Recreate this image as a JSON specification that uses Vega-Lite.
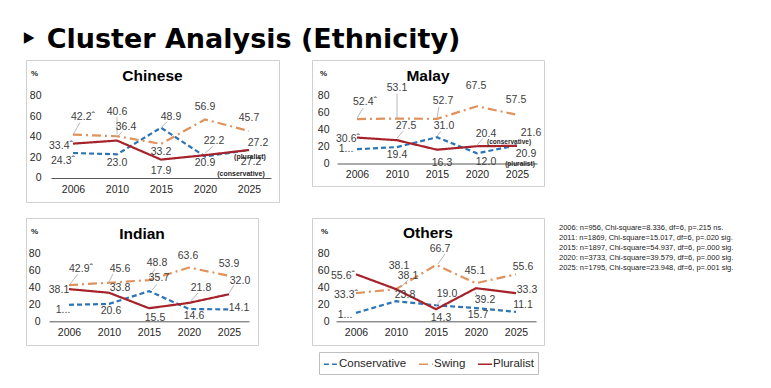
{
"$schema":"https://vega.github.io/schema/vega-lite/v6.json",
"background":"white",
"padding":{"left":20,"top":25,"right":5,"bottom":5},
"title":{"text":"‣ Cluster Analysis (Ethnicity)","anchor":"start","frame":"group","font":"DejaVu Sans","fontSize":27,"fontWeight":"bold","color":"#000000","dx":-6,"offset":-15,"baseline":"alphabetic"},
"datasets":{
"cn":[
{"year":"2006","s":"Conservative","v":24.3,"lbl":"24.3ˆ"},{"year":"2006","s":"Swing","v":42.2,"lbl":"42.2ˆ"},{"year":"2006","s":"Pluralist","v":33.4,"lbl":"33.4ˆ"},
{"year":"2010","s":"Conservative","v":23.0,"lbl":"23.0"},{"year":"2010","s":"Swing","v":40.6,"lbl":"40.6"},{"year":"2010","s":"Pluralist","v":36.4,"lbl":"36.4"},
{"year":"2015","s":"Conservative","v":48.9,"lbl":"48.9"},{"year":"2015","s":"Swing","v":33.2,"lbl":"33.2"},{"year":"2015","s":"Pluralist","v":17.9,"lbl":"17.9"},
{"year":"2020","s":"Conservative","v":20.9,"lbl":"20.9"},{"year":"2020","s":"Swing","v":56.9,"lbl":"56.9"},{"year":"2020","s":"Pluralist","v":22.2,"lbl":"22.2"},
{"year":"2025","s":"Conservative","v":27.2,"lbl":"27.2"},{"year":"2025","s":"Swing","v":45.7,"lbl":"45.7"},{"year":"2025","s":"Pluralist","v":27.2,"lbl":"27.2"}],
"my":[
{"year":"2006","s":"Conservative","v":16.9,"lbl":"1..."},{"year":"2006","s":"Swing","v":52.4,"lbl":"52.4ˆ"},{"year":"2006","s":"Pluralist","v":30.6,"lbl":"30.6ˆ"},
{"year":"2010","s":"Conservative","v":19.4,"lbl":"19.4"},{"year":"2010","s":"Swing","v":53.1,"lbl":"53.1"},{"year":"2010","s":"Pluralist","v":27.5,"lbl":"27.5"},
{"year":"2015","s":"Conservative","v":31.0,"lbl":"31.0"},{"year":"2015","s":"Swing","v":52.7,"lbl":"52.7"},{"year":"2015","s":"Pluralist","v":16.3,"lbl":"16.3"},
{"year":"2020","s":"Conservative","v":12.0,"lbl":"12.0"},{"year":"2020","s":"Swing","v":67.5,"lbl":"67.5"},{"year":"2020","s":"Pluralist","v":20.4,"lbl":"20.4"},
{"year":"2025","s":"Conservative","v":21.6,"lbl":"21.6"},{"year":"2025","s":"Swing","v":57.5,"lbl":"57.5"},{"year":"2025","s":"Pluralist","v":20.9,"lbl":"20.9"}],
"in":[
{"year":"2006","s":"Conservative","v":19.5,"lbl":"1..."},{"year":"2006","s":"Swing","v":42.9,"lbl":"42.9ˆ"},{"year":"2006","s":"Pluralist","v":38.1,"lbl":"38.1"},
{"year":"2010","s":"Conservative","v":20.6,"lbl":"20.6"},{"year":"2010","s":"Swing","v":45.6,"lbl":"45.6"},{"year":"2010","s":"Pluralist","v":33.8,"lbl":"33.8"},
{"year":"2015","s":"Conservative","v":35.7,"lbl":"35.7"},{"year":"2015","s":"Swing","v":48.8,"lbl":"48.8"},{"year":"2015","s":"Pluralist","v":15.5,"lbl":"15.5"},
{"year":"2020","s":"Conservative","v":14.6,"lbl":"14.6"},{"year":"2020","s":"Swing","v":63.6,"lbl":"63.6"},{"year":"2020","s":"Pluralist","v":21.8,"lbl":"21.8"},
{"year":"2025","s":"Conservative","v":14.1,"lbl":"14.1"},{"year":"2025","s":"Swing","v":53.9,"lbl":"53.9"},{"year":"2025","s":"Pluralist","v":32.0,"lbl":"32.0"}],
"ot":[
{"year":"2006","s":"Conservative","v":10.0,"lbl":"1..."},{"year":"2006","s":"Swing","v":33.3,"lbl":"33.3ˆ"},{"year":"2006","s":"Pluralist","v":55.6,"lbl":"55.6ˆ"},
{"year":"2010","s":"Conservative","v":23.8,"lbl":"23.8"},{"year":"2010","s":"Swing","v":38.1,"lbl":"38.1"},{"year":"2010","s":"Pluralist","v":38.1,"lbl":"38.1"},
{"year":"2015","s":"Conservative","v":19.0,"lbl":"19.0"},{"year":"2015","s":"Swing","v":66.7,"lbl":"66.7"},{"year":"2015","s":"Pluralist","v":14.3,"lbl":"14.3"},
{"year":"2020","s":"Conservative","v":15.7,"lbl":"15.7"},{"year":"2020","s":"Swing","v":45.1,"lbl":"45.1"},{"year":"2020","s":"Pluralist","v":39.2,"lbl":"39.2"},
{"year":"2025","s":"Conservative","v":11.1,"lbl":"11.1"},{"year":"2025","s":"Swing","v":55.6,"lbl":"55.6"},{"year":"2025","s":"Pluralist","v":33.3,"lbl":"33.3"}],
"notes":[
{"i":1,"t":"2006: n=956, Chi-square=8.336, df=6, p=.215 ns."},
{"i":2,"t":"2011: n=1869, Chi-square=15.017, df=6, p=.020 sig."},
{"i":3,"t":"2015: n=1897, Chi-square=54.937, df=6, p=.000 sig."},
{"i":4,"t":"2020: n=3733, Chi-square=39.579, df=6, p=.000 sig."},
{"i":5,"t":"2025: n=1795, Chi-square=23.948, df=6, p=.001 sig."}]
},
"spacing":14,
"vconcat":[
{"spacing":31,"hconcat":[
{"width":253,"height":142,"title":{"text":"Chinese","offset":-24},"data":{"name":"cn"},
"encoding":{
"x":{"field":"year","type":"ordinal","scale":{"type":"point","range":[25,245],"padding":0.5},"axis":{"title":null,"offset":-24}},
"y":{"field":"v","type":"quantitative","scale":{"domain":[-23.33,114.7],"nice":false,"zero":false},"axis":{"values":[0,20,40,60,80],"offset":-15,"title":"%","titleX":-7,"titleY":13}}},
"layer":[
{"mark":{"type":"line","strokeWidth":2.2},"encoding":{
"color":{"field":"s","type":"nominal","scale":{"domain":["Conservative","Swing","Pluralist"],"range":["#2e75b6","#e0925c","#a6232b"]},"legend":{"title":null,"orient":"none","legendX":293,"legendY":292,"direction":"horizontal"}},
"strokeDash":{"field":"s","type":"nominal","scale":{"domain":["Conservative","Swing","Pluralist"],"range":[[5,3],[9,4,2,4],[1,0]]},"legend":{"title":null,"orient":"none","legendX":293,"legendY":292,"direction":"horizontal"}}}},
{"transform":[{"filter":"datum.s=='Swing'&&datum.year=='2006'"}],"mark":{"type":"rule","x2Offset":7,"y2Offset":-12},"encoding":{"x2":{"field":"year"},"y2":{"field":"v"}}},
{"transform":[{"filter":"datum.s=='Swing'&&datum.year=='2010'"}],"mark":{"type":"rule","yOffset":-2,"y2Offset":-19},"encoding":{"x2":{"field":"year"},"y2":{"field":"v"}}},
{"transform":[{"filter":"datum.s=='Conservative'&&datum.year=='2015'"}],"mark":{"type":"rule","x2Offset":6,"y2Offset":-6},"encoding":{"x2":{"field":"year"},"y2":{"field":"v"}}},
{"transform":[{"filter":"datum.s=='Pluralist'&&datum.year=='2010'"}],"mark":{"type":"rule","yOffset":-3,"x2Offset":5,"y2Offset":-9},"encoding":{"x2":{"field":"year"},"y2":{"field":"v"}}},
{"transform":[{"filter":"datum.s=='Pluralist'&&datum.year=='2020'"}],"mark":{"type":"rule","yOffset":-2,"x2Offset":8,"y2Offset":-9},"encoding":{"x2":{"field":"year"},"y2":{"field":"v"}}},
{"transform":[{"filter":"datum.s=='Swing'&&datum.year=='2006'"}],"mark":{"type":"text","dx":10,"dy":-18},"encoding":{"text":{"field":"lbl"}}},
{"transform":[{"filter":"datum.s=='Swing'&&datum.year=='2010'"}],"mark":{"type":"text","dx":0,"dy":-24},"encoding":{"text":{"field":"lbl"}}},
{"transform":[{"filter":"datum.s=='Swing'&&datum.year=='2015'"}],"mark":{"type":"text","dx":0,"dy":8},"encoding":{"text":{"field":"lbl"}}},
{"transform":[{"filter":"datum.s=='Swing'&&datum.year=='2020'"}],"mark":{"type":"text","dx":0,"dy":-12},"encoding":{"text":{"field":"lbl"}}},
{"transform":[{"filter":"datum.s=='Swing'&&datum.year=='2025'"}],"mark":{"type":"text","dx":0,"dy":-13},"encoding":{"text":{"field":"lbl"}}},
{"transform":[{"filter":"datum.s=='Conservative'&&datum.year=='2006'"}],"mark":{"type":"text","dx":-10,"dy":8},"encoding":{"text":{"field":"lbl"}}},
{"transform":[{"filter":"datum.s=='Conservative'&&datum.year=='2010'"}],"mark":{"type":"text","dx":0,"dy":9},"encoding":{"text":{"field":"lbl"}}},
{"transform":[{"filter":"datum.s=='Conservative'&&datum.year=='2015'"}],"mark":{"type":"text","dx":10,"dy":-11},"encoding":{"text":{"field":"lbl"}}},
{"transform":[{"filter":"datum.s=='Conservative'&&datum.year=='2020'"}],"mark":{"type":"text","dx":0,"dy":7},"encoding":{"text":{"field":"lbl"}}},
{"transform":[{"filter":"datum.s=='Conservative'&&datum.year=='2025'"}],"mark":{"type":"text","dx":2,"dy":12},"encoding":{"text":{"field":"lbl"}}},
{"transform":[{"filter":"datum.s=='Pluralist'&&datum.year=='2006'"}],"mark":{"type":"text","dx":-12,"dy":2},"encoding":{"text":{"field":"lbl"}}},
{"transform":[{"filter":"datum.s=='Pluralist'&&datum.year=='2010'"}],"mark":{"type":"text","dx":9,"dy":-14},"encoding":{"text":{"field":"lbl"}}},
{"transform":[{"filter":"datum.s=='Pluralist'&&datum.year=='2015'"}],"mark":{"type":"text","dx":0,"dy":11},"encoding":{"text":{"field":"lbl"}}},
{"transform":[{"filter":"datum.s=='Pluralist'&&datum.year=='2020'"}],"mark":{"type":"text","dx":9,"dy":-14},"encoding":{"text":{"field":"lbl"}}},
{"transform":[{"filter":"datum.s=='Pluralist'&&datum.year=='2025'"}],"mark":{"type":"text","dx":9,"dy":-7},"encoding":{"text":{"field":"lbl"}}},
{"transform":[{"filter":"datum.s=='Pluralist'&&datum.year=='2025'"}],"mark":{"type":"text","dx":1,"dy":7,"fontSize":7,"fontWeight":"bold","color":"#262626"},"encoding":{"text":{"value":"(pluralist)"}}},
{"transform":[{"filter":"datum.s=='Conservative'&&datum.year=='2025'"}],"mark":{"type":"text","dx":-8,"dy":24,"fontSize":7,"fontWeight":"bold","color":"#262626"},"encoding":{"text":{"value":"(conservative)"}}}
]},
{"width":232,"height":126,"title":{"text":"Malay","offset":-24},"data":{"name":"my"},
"encoding":{
"x":{"field":"year","type":"ordinal","scale":{"type":"point","range":[25,225],"padding":0.5},"axis":{"title":null,"offset":-22.5}},
"y":{"field":"v","type":"quantitative","scale":{"domain":[-26.5,122.1],"nice":false,"zero":false},"axis":{"values":[0,20,40,60,80],"offset":-17,"title":"%","titleX":-6,"titleY":13}}},
"layer":[
{"mark":{"type":"line","strokeWidth":2.2},"encoding":{
"color":{"field":"s","type":"nominal","scale":{"domain":["Conservative","Swing","Pluralist"],"range":["#2e75b6","#e0925c","#a6232b"]},"legend":{"title":null,"orient":"none","legendX":293,"legendY":292,"direction":"horizontal"}},
"strokeDash":{"field":"s","type":"nominal","scale":{"domain":["Conservative","Swing","Pluralist"],"range":[[5,3],[9,4,2,4],[1,0]]},"legend":{"title":null,"orient":"none","legendX":293,"legendY":292,"direction":"horizontal"}}}},
{"transform":[{"filter":"datum.s=='Swing'&&datum.year=='2006'"}],"mark":{"type":"rule","yOffset":-1,"x2Offset":6,"y2Offset":-11},"encoding":{"x2":{"field":"year"},"y2":{"field":"v"}}},
{"transform":[{"filter":"datum.s=='Swing'&&datum.year=='2010'"}],"mark":{"type":"rule","y2Offset":-25},"encoding":{"x2":{"field":"year"},"y2":{"field":"v"}}},
{"transform":[{"filter":"datum.s=='Swing'&&datum.year=='2015'"}],"mark":{"type":"rule","yOffset":-1,"x2Offset":2,"y2Offset":-12},"encoding":{"x2":{"field":"year"},"y2":{"field":"v"}}},
{"transform":[{"filter":"datum.s=='Pluralist'&&datum.year=='2010'"}],"mark":{"type":"rule","yOffset":-2,"x2Offset":6,"y2Offset":-9},"encoding":{"x2":{"field":"year"},"y2":{"field":"v"}}},
{"transform":[{"filter":"datum.s=='Conservative'&&datum.year=='2015'"}],"mark":{"type":"rule","yOffset":-1,"x2Offset":4,"y2Offset":-6},"encoding":{"x2":{"field":"year"},"y2":{"field":"v"}}},
{"transform":[{"filter":"datum.s=='Pluralist'&&datum.year=='2020'"}],"mark":{"type":"rule","yOffset":-1,"x2Offset":6,"y2Offset":-8},"encoding":{"x2":{"field":"year"},"y2":{"field":"v"}}},
{"transform":[{"filter":"datum.s=='Swing'&&datum.year=='2006'"}],"mark":{"type":"text","dx":8,"dy":-17},"encoding":{"text":{"field":"lbl"}}},
{"transform":[{"filter":"datum.s=='Swing'&&datum.year=='2010'"}],"mark":{"type":"text","dx":0,"dy":-31},"encoding":{"text":{"field":"lbl"}}},
{"transform":[{"filter":"datum.s=='Swing'&&datum.year=='2015'"}],"mark":{"type":"text","dx":6,"dy":-18},"encoding":{"text":{"field":"lbl"}}},
{"transform":[{"filter":"datum.s=='Swing'&&datum.year=='2020'"}],"mark":{"type":"text","dx":-1,"dy":-20},"encoding":{"text":{"field":"lbl"}}},
{"transform":[{"filter":"datum.s=='Swing'&&datum.year=='2025'"}],"mark":{"type":"text","dx":-1,"dy":-15},"encoding":{"text":{"field":"lbl"}}},
{"transform":[{"filter":"datum.s=='Pluralist'&&datum.year=='2006'"}],"mark":{"type":"text","dx":-9,"dy":1},"encoding":{"text":{"field":"lbl"}}},
{"transform":[{"filter":"datum.s=='Pluralist'&&datum.year=='2010'"}],"mark":{"type":"text","dx":9,"dy":-14},"encoding":{"text":{"field":"lbl"}}},
{"transform":[{"filter":"datum.s=='Pluralist'&&datum.year=='2015'"}],"mark":{"type":"text","dx":5,"dy":13},"encoding":{"text":{"field":"lbl"}}},
{"transform":[{"filter":"datum.s=='Pluralist'&&datum.year=='2020'"}],"mark":{"type":"text","dx":9,"dy":-12},"encoding":{"text":{"field":"lbl"}}},
{"transform":[{"filter":"datum.s=='Pluralist'&&datum.year=='2025'"}],"mark":{"type":"text","dx":9,"dy":8},"encoding":{"text":{"field":"lbl"}}},
{"transform":[{"filter":"datum.s=='Conservative'&&datum.year=='2006'"}],"mark":{"type":"text","dx":-11,"dy":0},"encoding":{"text":{"field":"lbl"}}},
{"transform":[{"filter":"datum.s=='Conservative'&&datum.year=='2010'"}],"mark":{"type":"text","dx":0,"dy":8},"encoding":{"text":{"field":"lbl"}}},
{"transform":[{"filter":"datum.s=='Conservative'&&datum.year=='2015'"}],"mark":{"type":"text","dx":7,"dy":-11},"encoding":{"text":{"field":"lbl"}}},
{"transform":[{"filter":"datum.s=='Conservative'&&datum.year=='2020'"}],"mark":{"type":"text","dx":9,"dy":9},"encoding":{"text":{"field":"lbl"}}},
{"transform":[{"filter":"datum.s=='Conservative'&&datum.year=='2025'"}],"mark":{"type":"text","dx":14,"dy":-12},"encoding":{"text":{"field":"lbl"}}},
{"transform":[{"filter":"datum.s=='Conservative'&&datum.year=='2025'"}],"mark":{"type":"text","dx":-8,"dy":-3,"fontSize":6.5,"fontWeight":"bold","color":"#262626"},"encoding":{"text":{"value":"(conservative)"}}},
{"transform":[{"filter":"datum.s=='Pluralist'&&datum.year=='2025'"}],"mark":{"type":"text","dx":3,"dy":18,"fontSize":6.5,"fontWeight":"bold","color":"#262626"},"encoding":{"text":{"value":"(pluralist)"}}}
]}
]},
{"spacing":52,"hconcat":[
{"width":232,"height":127,"title":{"text":"Indian","offset":-24},"data":{"name":"in"},
"encoding":{
"x":{"field":"year","type":"ordinal","scale":{"type":"point","range":[23,223],"padding":0.5},"axis":{"title":null,"offset":-23.7}},
"y":{"field":"v","type":"quantitative","scale":{"domain":[-28.0,122.2],"nice":false,"zero":false},"axis":{"values":[0,20,40,60,80],"offset":-14,"title":"%","titleX":-6,"titleY":13}}},
"layer":[
{"mark":{"type":"line","strokeWidth":2.2},"encoding":{
"color":{"field":"s","type":"nominal","scale":{"domain":["Conservative","Swing","Pluralist"],"range":["#2e75b6","#e0925c","#a6232b"]},"legend":{"title":null,"orient":"none","legendX":293,"legendY":292,"direction":"horizontal"}},
"strokeDash":{"field":"s","type":"nominal","scale":{"domain":["Conservative","Swing","Pluralist"],"range":[[5,3],[9,4,2,4],[1,0]]},"legend":{"title":null,"orient":"none","legendX":293,"legendY":292,"direction":"horizontal"}}}},
{"transform":[{"filter":"datum.s=='Swing'&&datum.year=='2006'"}],"mark":{"type":"rule","xOffset":1,"yOffset":-1,"x2Offset":9,"y2Offset":-11},"encoding":{"x2":{"field":"year"},"y2":{"field":"v"}}},
{"transform":[{"filter":"datum.s=='Swing'&&datum.year=='2010'"}],"mark":{"type":"rule","yOffset":-1,"x2Offset":4,"y2Offset":-9},"encoding":{"x2":{"field":"year"},"y2":{"field":"v"}}},
{"transform":[{"filter":"datum.s=='Swing'&&datum.year=='2015'"}],"mark":{"type":"rule","yOffset":-3,"x2Offset":6,"y2Offset":-11},"encoding":{"x2":{"field":"year"},"y2":{"field":"v"}}},
{"transform":[{"filter":"datum.s=='Pluralist'&&datum.year=='2020'"}],"mark":{"type":"rule","xOffset":2,"yOffset":-2,"x2Offset":9,"y2Offset":-10},"encoding":{"x2":{"field":"year"},"y2":{"field":"v"}}},
{"transform":[{"filter":"datum.s=='Pluralist'&&datum.year=='2025'"}],"mark":{"type":"rule","yOffset":-1,"x2Offset":5,"y2Offset":-9},"encoding":{"x2":{"field":"year"},"y2":{"field":"v"}}},
{"transform":[{"filter":"datum.s=='Conservative'&&datum.year=='2015'"}],"mark":{"type":"rule","xOffset":3,"yOffset":-1,"x2Offset":8,"y2Offset":-7},"encoding":{"x2":{"field":"year"},"y2":{"field":"v"}}},
{"transform":[{"filter":"datum.s=='Swing'&&datum.year=='2006'"}],"mark":{"type":"text","dx":12,"dy":-16},"encoding":{"text":{"field":"lbl"}}},
{"transform":[{"filter":"datum.s=='Swing'&&datum.year=='2010'"}],"mark":{"type":"text","dx":11,"dy":-14},"encoding":{"text":{"field":"lbl"}}},
{"transform":[{"filter":"datum.s=='Swing'&&datum.year=='2015'"}],"mark":{"type":"text","dx":8,"dy":-17},"encoding":{"text":{"field":"lbl"}}},
{"transform":[{"filter":"datum.s=='Swing'&&datum.year=='2020'"}],"mark":{"type":"text","dx":-1,"dy":-12},"encoding":{"text":{"field":"lbl"}}},
{"transform":[{"filter":"datum.s=='Swing'&&datum.year=='2025'"}],"mark":{"type":"text","dx":0,"dy":-12},"encoding":{"text":{"field":"lbl"}}},
{"transform":[{"filter":"datum.s=='Pluralist'&&datum.year=='2006'"}],"mark":{"type":"text","dx":-10,"dy":1},"encoding":{"text":{"field":"lbl"}}},
{"transform":[{"filter":"datum.s=='Pluralist'&&datum.year=='2010'"}],"mark":{"type":"text","dx":11,"dy":-5},"encoding":{"text":{"field":"lbl"}}},
{"transform":[{"filter":"datum.s=='Pluralist'&&datum.year=='2015'"}],"mark":{"type":"text","dx":6,"dy":10},"encoding":{"text":{"field":"lbl"}}},
{"transform":[{"filter":"datum.s=='Pluralist'&&datum.year=='2020'"}],"mark":{"type":"text","dx":12,"dy":-15},"encoding":{"text":{"field":"lbl"}}},
{"transform":[{"filter":"datum.s=='Pluralist'&&datum.year=='2025'"}],"mark":{"type":"text","dx":11,"dy":-13},"encoding":{"text":{"field":"lbl"}}},
{"transform":[{"filter":"datum.s=='Conservative'&&datum.year=='2006'"}],"mark":{"type":"text","dx":-6,"dy":5},"encoding":{"text":{"field":"lbl"}}},
{"transform":[{"filter":"datum.s=='Conservative'&&datum.year=='2010'"}],"mark":{"type":"text","dx":2,"dy":7},"encoding":{"text":{"field":"lbl"}}},
{"transform":[{"filter":"datum.s=='Conservative'&&datum.year=='2015'"}],"mark":{"type":"text","dx":10,"dy":-13},"encoding":{"text":{"field":"lbl"}}},
{"transform":[{"filter":"datum.s=='Conservative'&&datum.year=='2020'"}],"mark":{"type":"text","dx":5,"dy":7},"encoding":{"text":{"field":"lbl"}}},
{"transform":[{"filter":"datum.s=='Conservative'&&datum.year=='2025'"}],"mark":{"type":"text","dx":10,"dy":-1},"encoding":{"text":{"field":"lbl"}}}
]},
{"spacing":14,"hconcat":[
{"width":232,"height":127,"title":{"text":"Others","offset":-23},"data":{"name":"ot"},
"encoding":{
"x":{"field":"year","type":"ordinal","scale":{"type":"point","range":[24,224],"padding":0.5},"axis":{"title":null,"offset":-23.7}},
"y":{"field":"v","type":"quantitative","scale":{"domain":[-28.0,122.2],"nice":false,"zero":false},"axis":{"values":[0,20,40,60,80],"offset":-17,"title":"%","titleX":-5,"titleY":13}}},
"layer":[
{"mark":{"type":"line","strokeWidth":2.2},"encoding":{
"color":{"field":"s","type":"nominal","scale":{"domain":["Conservative","Swing","Pluralist"],"range":["#2e75b6","#e0925c","#a6232b"]},"legend":{"title":null,"orient":"none","legendX":293,"legendY":292,"direction":"horizontal"}},
"strokeDash":{"field":"s","type":"nominal","scale":{"domain":["Conservative","Swing","Pluralist"],"range":[[5,3],[9,4,2,4],[1,0]]},"legend":{"title":null,"orient":"none","legendX":293,"legendY":292,"direction":"horizontal"}}}},
{"transform":[{"filter":"datum.s=='Swing'&&datum.year=='2015'"}],"mark":{"type":"rule","xOffset":2,"yOffset":-1,"x2Offset":9,"y2Offset":-11},"encoding":{"x2":{"field":"year"},"y2":{"field":"v"}}},
{"transform":[{"filter":"datum.s=='Pluralist'&&datum.year=='2010'"}],"mark":{"type":"rule","xOffset":5,"yOffset":-2,"x2Offset":12,"y2Offset":-9},"encoding":{"x2":{"field":"year"},"y2":{"field":"v"}}},
{"transform":[{"filter":"datum.s=='Conservative'&&datum.year=='2015'"}],"mark":{"type":"rule","yOffset":1,"x2Offset":5,"y2Offset":-6},"encoding":{"x2":{"field":"year"},"y2":{"field":"v"}}},
{"transform":[{"filter":"datum.s=='Pluralist'&&datum.year=='2020'"}],"mark":{"type":"rule","xOffset":-1,"yOffset":4,"x2Offset":2,"y2Offset":9},"encoding":{"x2":{"field":"year"},"y2":{"field":"v"}}},
{"transform":[{"filter":"datum.s=='Pluralist'&&datum.year=='2006'"}],"mark":{"type":"text","dx":-13,"dy":2},"encoding":{"text":{"field":"lbl"}}},
{"transform":[{"filter":"datum.s=='Pluralist'&&datum.year=='2010'"}],"mark":{"type":"text","dx":12,"dy":-13},"encoding":{"text":{"field":"lbl"}}},
{"transform":[{"filter":"datum.s=='Pluralist'&&datum.year=='2015'"}],"mark":{"type":"text","dx":5,"dy":9},"encoding":{"text":{"field":"lbl"}}},
{"transform":[{"filter":"datum.s=='Pluralist'&&datum.year=='2020'"}],"mark":{"type":"text","dx":9,"dy":12},"encoding":{"text":{"field":"lbl"}}},
{"transform":[{"filter":"datum.s=='Pluralist'&&datum.year=='2025'"}],"mark":{"type":"text","dx":11,"dy":-3},"encoding":{"text":{"field":"lbl"}}},
{"transform":[{"filter":"datum.s=='Swing'&&datum.year=='2006'"}],"mark":{"type":"text","dx":-10,"dy":2},"encoding":{"text":{"field":"lbl"}}},
{"transform":[{"filter":"datum.s=='Swing'&&datum.year=='2010'"}],"mark":{"type":"text","dx":3,"dy":-23},"encoding":{"text":{"field":"lbl"}}},
{"transform":[{"filter":"datum.s=='Swing'&&datum.year=='2015'"}],"mark":{"type":"text","dx":4,"dy":-16},"encoding":{"text":{"field":"lbl"}}},
{"transform":[{"filter":"datum.s=='Swing'&&datum.year=='2020'"}],"mark":{"type":"text","dx":-1,"dy":-12},"encoding":{"text":{"field":"lbl"}}},
{"transform":[{"filter":"datum.s=='Swing'&&datum.year=='2025'"}],"mark":{"type":"text","dx":7,"dy":-7},"encoding":{"text":{"field":"lbl"}}},
{"transform":[{"filter":"datum.s=='Conservative'&&datum.year=='2006'"}],"mark":{"type":"text","dx":-11,"dy":2},"encoding":{"text":{"field":"lbl"}}},
{"transform":[{"filter":"datum.s=='Conservative'&&datum.year=='2010'"}],"mark":{"type":"text","dx":9,"dy":-6},"encoding":{"text":{"field":"lbl"}}},
{"transform":[{"filter":"datum.s=='Conservative'&&datum.year=='2015'"}],"mark":{"type":"text","dx":11,"dy":-11},"encoding":{"text":{"field":"lbl"}}},
{"transform":[{"filter":"datum.s=='Conservative'&&datum.year=='2020'"}],"mark":{"type":"text","dx":2,"dy":7},"encoding":{"text":{"field":"lbl"}}},
{"transform":[{"filter":"datum.s=='Conservative'&&datum.year=='2025'"}],"mark":{"type":"text","dx":7,"dy":-7},"encoding":{"text":{"field":"lbl"}}}
]},
{"width":200,"height":60,"view":{"stroke":null},"data":{"name":"notes"},
"mark":{"type":"text","align":"left","baseline":"middle","fontSize":7.5,"color":"#1a1a1a"},
"encoding":{
"x":{"datum":0,"type":"quantitative","scale":{"domain":[0,1]},"axis":null},
"y":{"field":"i","type":"ordinal","scale":{"type":"point","padding":1.24},"axis":null},
"text":{"field":"t"}}}
]}
]}
],
"config":{
"font":"Liberation Sans",
"view":{"stroke":"#d0d0d0","strokeWidth":1},
"axis":{"grid":false,"ticks":false,"tickSize":0,"domain":false,"labelFont":"Liberation Sans","labelFontSize":10.5,"labelColor":"#262626","labelPadding":0,"titleFont":"Liberation Sans","titleFontSize":8,"titleFontWeight":"bold","titleColor":"#262626","titleAngle":0,"titleAlign":"center","titleBaseline":"middle"},
"axisX":{"domain":true,"domainColor":"#595959","domainWidth":1,"labelAngle":0,"labelPadding":6},
"title":{"font":"Liberation Sans","fontSize":15.5,"fontWeight":"bold","color":"#000000","baseline":"middle","anchor":"middle","frame":"group"},
"text":{"font":"Liberation Sans","fontSize":10.5,"color":"#404040","align":"center","baseline":"middle"},
"rule":{"color":"#a6a6a6","strokeWidth":0.8},
"legend":{"symbolType":"stroke","symbolSize":200,"symbolStrokeWidth":1.6,"labelFont":"Liberation Sans","labelFontSize":11.5,"labelColor":"#262626","labelOffset":0,"columnPadding":8,"padding":4,"strokeColor":"#bfbfbf"}
}
}
